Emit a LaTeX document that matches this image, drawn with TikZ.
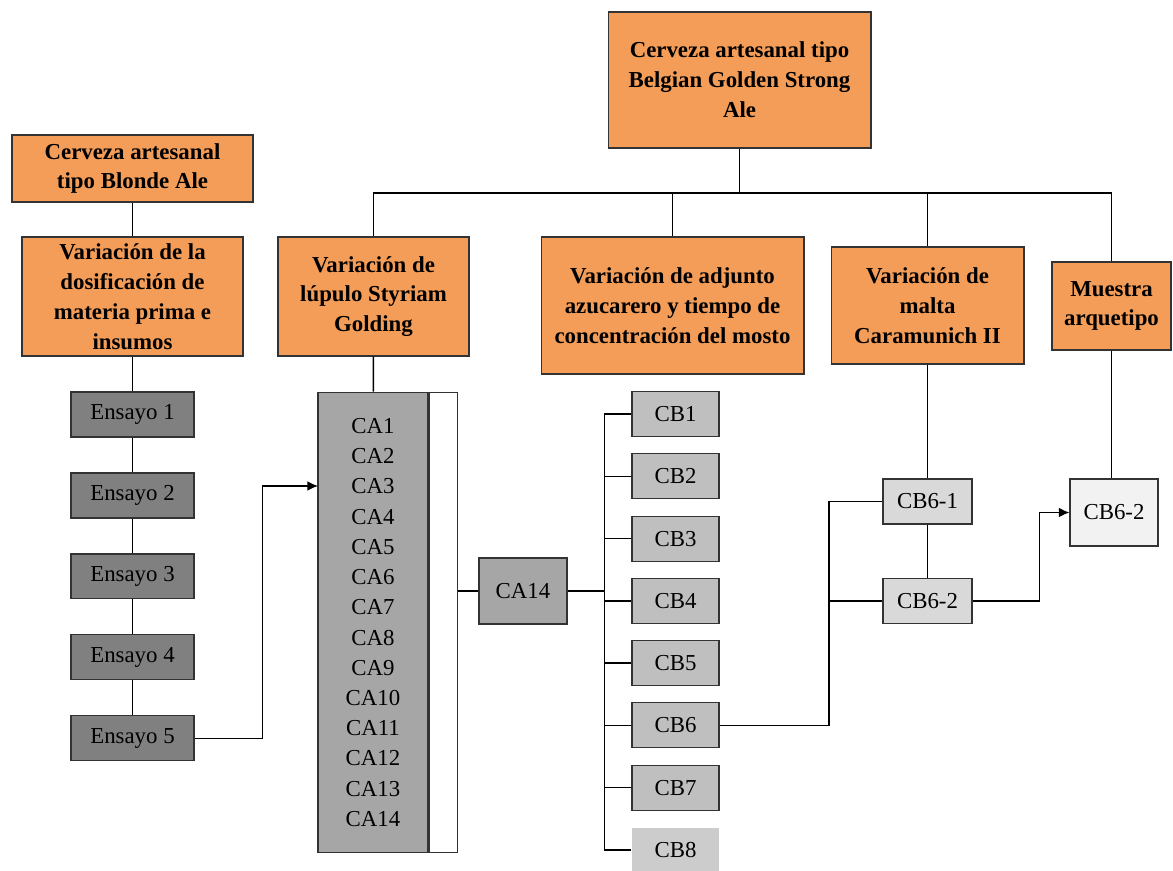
\documentclass[tikz,border=0pt]{standalone}
\usepackage{fontspec}
\setmainfont{Liberation Serif}
\usepackage{tikz}
\usetikzlibrary{arrows.meta}
\definecolor{orangebox}{RGB}{244,157,88}
\definecolor{ensayogrey}{RGB}{128,128,128}
\definecolor{cagrey}{RGB}{166,166,166}
\definecolor{cbgrey}{RGB}{191,191,191}
\definecolor{cblight}{RGB}{204,204,204}
\definecolor{subgrey}{RGB}{217,217,217}
\definecolor{fingrey}{RGB}{242,242,242}

\begin{document}
\begin{tikzpicture}
		[x=0.02cm, y=-0.02cm, thick, font=\fontsize{13}{17}\selectfont,
		box/.style = {draw=black!80, line width=0.6pt, align=center, inner sep=1pt},
		head/.style = {box, fill=orangebox, font=\fontsize{13}{17}\selectfont\bfseries},
		ensayo/.style = {box, fill=ensayogrey, minimum width=2.46cm, minimum height=0.9cm},
		cb/.style = {box, fill=cbgrey, minimum width=1.74cm, minimum height=0.9cm},
		sub/.style = {box, fill=subgrey, minimum width=1.78cm, minimum height=0.9cm},
		arr/.style = {-{Latex[length=6pt,width=5.5pt]}}]
	\useasboundingbox (0,0) rectangle (1173,871);
	\node[head, minimum width=5.26cm, minimum height=2.72cm] (top) at (739.5,80) {Cerveza artesanal tipo\\Belgian Golden Strong\\Ale};
	\node[head, minimum width=4.82cm, minimum height=1.34cm] (blonde) at (132.5,168.5) {Cerveza artesanal\\tipo Blonde Ale};
	\node[head, minimum width=4.42cm, minimum height=2.38cm] (dosif) at (132.5,296.5) {Variación de la\\dosificación de\\materia prima e\\insumos};
	\node[head, minimum width=3.82cm, minimum height=2.38cm] (lup) at (373.5,296.5) {Variación de\\lúpulo Styriam\\Golding};
	\node[head, minimum width=5.26cm, minimum height=2.74cm] (adj) at (672.5,305.5) {Variación de adjunto\\azucarero y tiempo de\\concentración del mosto};
	\node[head, minimum width=3.86cm, minimum height=2.34cm] (malta) at (927.5,305.5) {Variación de\\malta\\Caramunich II};
	\node[head, minimum width=2.38cm, minimum height=1.76cm] (mue) at (1111.5,306) {Muestra\\arquetipo};
	\node[ensayo] (e1) at (132.5,414.5) {Ensayo 1};
	\node[ensayo, node distance=1.62cm] (e2) [below of = e1] {Ensayo 2};
	\node[ensayo, node distance=1.62cm] (e3) [below of = e2] {Ensayo 3};
	\node[ensayo, node distance=1.62cm] (e4) [below of = e3] {Ensayo 4};
	\node[ensayo, node distance=1.62cm] (e5) [below of = e4] {Ensayo 5};
	\node[box, fill=cagrey, minimum width=2.2cm, minimum height=9.22cm, font=\fontsize{13}{17.2}\selectfont] (ca) at (373,622.5) {CA1\\CA2\\CA3\\CA4\\CA5\\CA6\\CA7\\CA8\\CA9\\CA10\\CA11\\CA12\\CA13\\CA14};
	\node[box, fill=white, minimum width=0.56cm, minimum height=9.22cm, anchor=west] (cabar) at (ca.east) {};
	\node[box, fill=cagrey, minimum width=1.76cm, minimum height=1.32cm] (ca14) at (523,591) {CA14};
	\node[cb] (cb1) at (675.5,414) {CB1};
	\node[cb, node distance=1.246cm] (cb2) [below of = cb1] {CB2};
	\node[cb, node distance=1.246cm] (cb3) [below of = cb2] {CB3};
	\node[cb, node distance=1.246cm] (cb4) [below of = cb3] {CB4};
	\node[cb, node distance=1.246cm] (cb5) [below of = cb4] {CB5};
	\node[cb, node distance=1.246cm] (cb6) [below of = cb5] {CB6};
	\node[cb, node distance=1.246cm] (cb7) [below of = cb6] {CB7};
	\node[cb, node distance=1.246cm, fill=cblight, draw=none] (cb8) [below of = cb7] {CB8};
	\node[sub] (cb61) at (927.5,501.5) {CB6-1};
	\node[sub] (cb62) at (927.5,601) {CB6-2};
	\node[box, fill=fingrey, minimum width=1.76cm, minimum height=1.34cm] (fin) at (1114,512.5) {CB6-2};
	\coordinate (bus) at (739.5,193);
	\coordinate (cain) at (318,486);
	\coordinate (cbbus) at (605,591);
	\coordinate (cb6bus) at (829,601);
	\draw (top) -- (bus);
	\draw (lup.north) |- (bus);
	\draw (adj.north) |- (bus);
	\draw (malta.north) |- (bus);
	\draw (mue.north) |- (bus);
	\draw (blonde) -- (dosif);
	\draw (dosif) -- (e1);
	\draw (e1) -- (e2);
	\draw (e2) -- (e3);
	\draw (e3) -- (e4);
	\draw (e4) -- (e5);
	\draw[arr] (e5.east) -- ++(68,0) |- (cain);
	\draw (lup) -- (ca);
	\draw (cabar.east |- ca14) -- (ca14);
	\draw (ca14) -- (cbbus);
	\draw (cb1.west) -- ++(-27,0) |- (cb8.west);
	\draw (cb2.west) -- ++(-27,0);
	\draw (cb3.west) -- ++(-27,0);
	\draw (cb4.west) -- ++(-27,0);
	\draw (cb5.west) -- ++(-27,0);
	\draw (cb6.west) -- ++(-27,0);
	\draw (cb7.west) -- ++(-27,0);
	\draw (cb6.east) -| (cb6bus) |- (cb61.west);
	\draw (cb6bus) -- (cb62.west);
	\draw (malta) -- (cb61);
	\draw (cb61) -- (cb62);
	\draw[arr] (cb62.east) -- ++(67,0) |- (fin.west);
	\draw (mue.south) -- (mue.south |- fin.north);
\end{tikzpicture}
\end{document}
